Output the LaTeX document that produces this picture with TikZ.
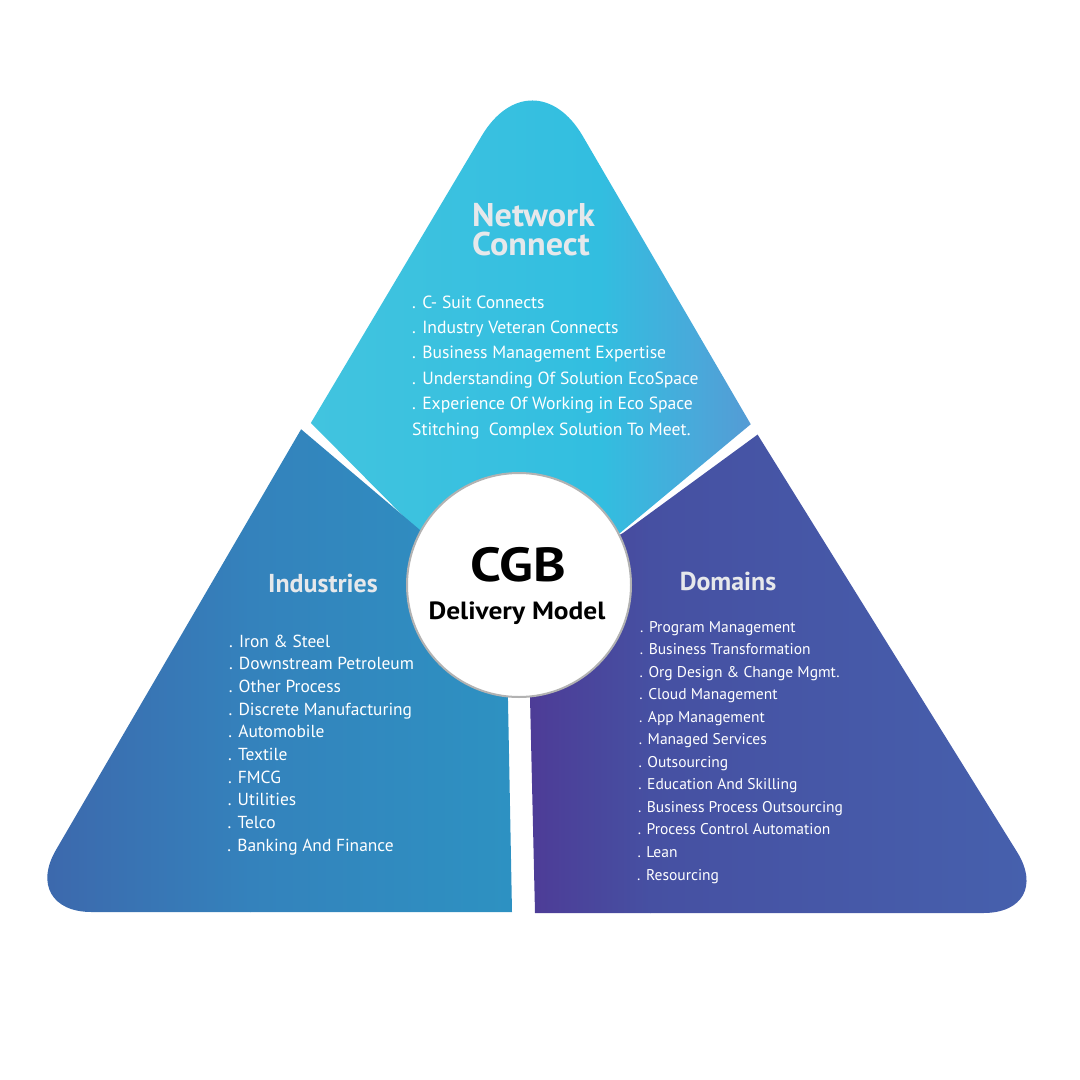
\documentclass[tikz,border=0pt]{standalone}
\usepackage{fontspec}
\setmainfont{PT Sans}
\begin{document}
\begin{tikzpicture}[x=1bp,y=-1bp,
  heading/.style={text=headgray, font=\bfseries\fontsize{#1}{#1}\selectfont, inner sep=0pt},
  heading/.default=33,
  item/.style={text=white, font=\fontsize{#1}{#1}\selectfont, anchor=base west, inner sep=0pt},
  centretext/.style={text=black, font=\bfseries\fontsize{#1}{#1}\selectfont, anchor=base, inner sep=0pt}
]
\definecolor{headgray}{RGB}{230,232,235}
\definecolor{netA}{RGB}{66,196,223}
\definecolor{netB}{RGB}{50,190,224}
\definecolor{netC}{RGB}{74,168,218}
\definecolor{netD}{RGB}{88,150,210}
\definecolor{indA}{RGB}{62,100,170}
\definecolor{indB}{RGB}{52,130,188}
\definecolor{indC}{RGB}{45,146,194}
\definecolor{domA}{RGB}{78,58,150}
\definecolor{domB}{RGB}{70,80,162}
\definecolor{domC}{RGB}{70,98,174}

\useasboundingbox (0,0) rectangle (1080,1080);

% ---------- Network Connect piece ----------
\begin{scope}
  \clip[rounded corners=100] (532.7,50.2) -- (146,700) -- (911.5,700) -- cycle;
  \clip (202,313) -- (420,533) -- (519,585) -- (620,533) -- (882,315) -- (882,0) -- (202,0) -- cycle;
  \shade[left color=netA, right color=netB] (300,30) rectangle (600.5,560);
  \shade[left color=netB, right color=netC] (600,30) rectangle (700.5,560);
  \shade[left color=netC, right color=netD] (700,30) rectangle (770,560);
\end{scope}

% ---------- Industries piece ----------
\begin{scope}
  \clip[rounded corners=72] (19.8,912) -- (493,100) -- (900,912) -- cycle;
  \clip (184,330) -- (420,530) -- (505.8,585) -- (512,912) -- (512,1000) -- (0,1000) -- (0,330) -- cycle;
  \shade[left color=indA, right color=indB] (10,400) rectangle (250.5,920);
  \shade[left color=indB, right color=indC] (250,400) rectangle (520,920);
\end{scope}

% ---------- Domains piece ----------
\begin{scope}
  \clip[rounded corners=72] (1055,913) -- (549.6,100) -- (150,913) -- cycle;
  \clip (891,337) -- (623,533) -- (527.4,585) -- (535,913) -- (535,1000) -- (1080,1000) -- (1080,337) -- cycle;
  \shade[left color=domA, right color=domB] (520,400) rectangle (650.5,920);
  \shade[left color=domB, right color=domC] (650,400) rectangle (1070,920);
\end{scope}

% ---------- centre circle ----------
\node[circle, fill=white, draw=black!30, line width=2bp, minimum size=224bp, inner sep=0pt] (hub) at (519,585) {};
\node[centretext=48] (cgb) at (518,581) {\scalebox{1.16}[1]{CGB}};
\node[centretext=25] (model) at (517,619) {\scalebox{1.1}[1]{Delivery Model}};

% ---------- headings ----------
\node[heading, anchor=north west, align=left, font=\bfseries\fontsize{33}{29}\selectfont] (nethead) at (472,203) {\scalebox{1.04}[1]{Network}\\\scalebox{1.04}[1]{Connect}};
\node[heading=26, anchor=base] (indhead) at (323,592) {Industries};
\node[heading=26, anchor=base] (domhead) at (728,590) {Domains};

% ---------- Network list ----------
\foreach \t [count=\i from 0] in {. C- Suit Connects, . Industry Veteran Connects, . Business Management Expertise, . Understanding Of Solution EcoSpace, . Experience Of Working in Eco Space, Stitching\ \ Complex Solution To Meet.}
  \node[item=17.7] (net\i) at (412,308+25.4*\i) {\t};

% ---------- Industries list ----------
\foreach \t [count=\i from 0] in {. Iron \& Steel, . Downstream Petroleum, . Other Process, . Discrete Manufacturing, . Automobile, . Textile, . FMCG, . Utilities, . Telco, . Banking And Finance}
  \node[item=17.5] (ind\i) at (229-0.2*\i,647+22.7*\i) {\t};

% ---------- Domains list ----------
\foreach \t [count=\i from 0] in {. Program Management, . Business Transformation, . Org Design \& Change Mgmt., . Cloud Management, . App Management, . Managed Services, . Outsourcing, . Education And Skilling, . Business Process Outsourcing, . Process Control Automation, . Lean, . Resourcing}
  \node[item=15.6] (dom\i) at (640-0.27*\i,632+22.55*\i) {\t};

\end{tikzpicture}
\end{document}
